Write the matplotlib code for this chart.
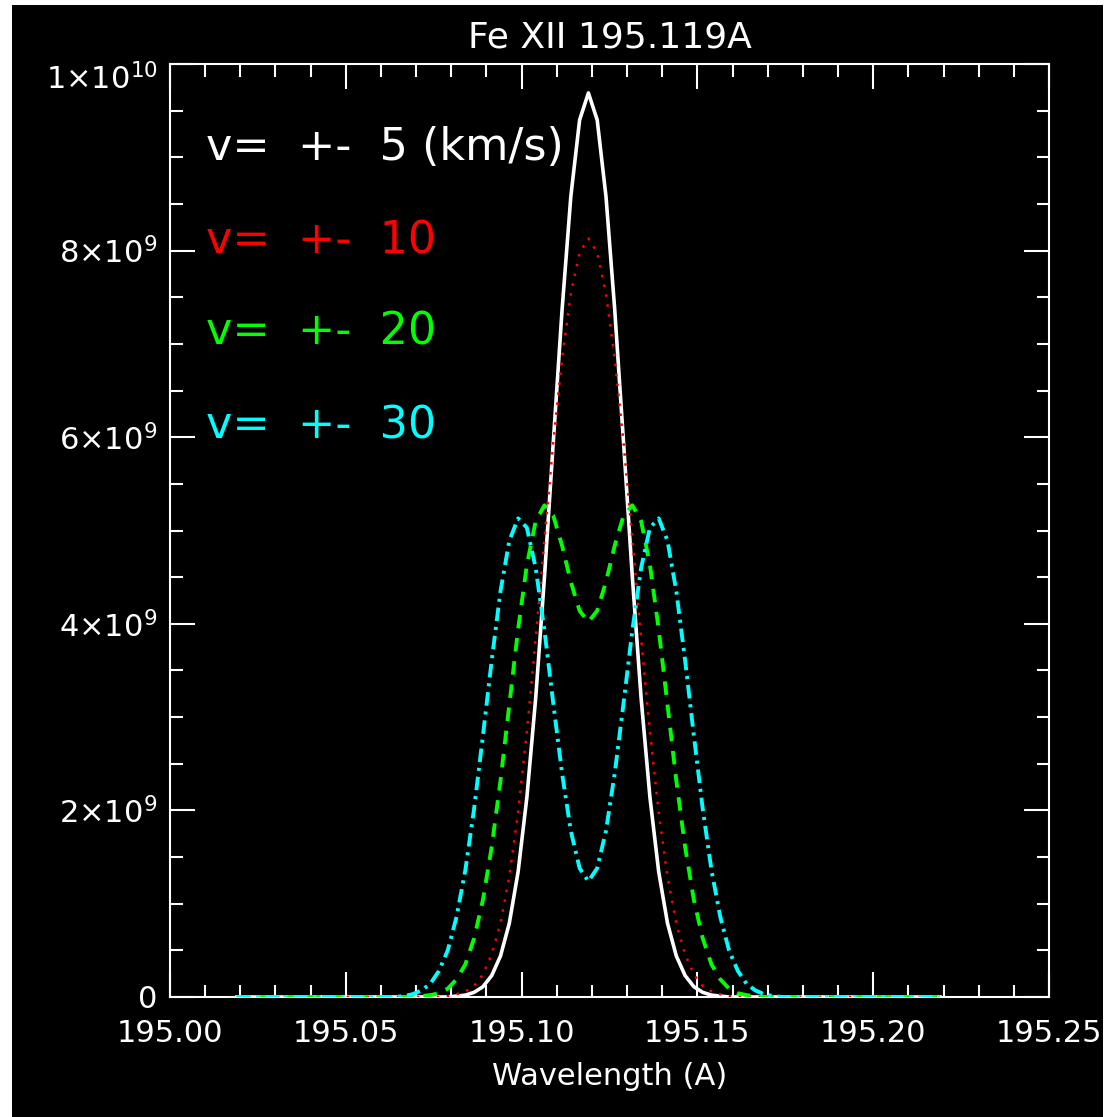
import numpy as np
import matplotlib
matplotlib.use('Agg')
import matplotlib.pyplot as plt
from matplotlib.patches import Rectangle
from matplotlib.ticker import MultipleLocator, FuncFormatter
from matplotlib.transforms import ScaledTranslation

# Comprimentos de onda amostrados (Angstrom)
wavelength = [195.019,
              195.064, 195.0665, 195.069, 195.0715, 195.074, 195.0765, 195.079, 195.0815,
              195.084, 195.0865, 195.089, 195.0915, 195.094, 195.0965, 195.099, 195.1015,
              195.104, 195.1065, 195.109, 195.1115, 195.114, 195.1165,
              195.119,
              195.1215, 195.124, 195.1265, 195.129, 195.1315, 195.134, 195.1365, 195.139,
              195.1415, 195.144, 195.1465, 195.149, 195.1515, 195.154, 195.1565, 195.159,
              195.1615, 195.164, 195.1665, 195.169, 195.1715, 195.174,
              195.219]

# Intensidades, em unidades de 1e9
v5 = [0,
      0, 0, 0, 0, 0, 0, 0, 0.01, 0.02, 0.05, 0.11, 0.23, 0.44, 0.79, 1.34, 2.14, 3.20, 4.50, 5.94, 7.36, 8.58, 9.40,
      9.69,
      9.40, 8.58, 7.36, 5.94, 4.50, 3.20, 2.14, 1.34, 0.79, 0.44, 0.23, 0.11, 0.05, 0.02, 0.01, 0, 0, 0, 0, 0, 0, 0,
      0]
v10 = [0,
       0, 0, 0, 0, 0, 0, 0.01, 0.03, 0.06, 0.12, 0.24, 0.46, 0.79, 1.29, 1.98, 2.84, 3.84, 4.91, 5.94, 6.84, 7.54, 7.98,
       8.13,
       7.98, 7.54, 6.84, 5.94, 4.91, 3.84, 2.84, 1.98, 1.29, 0.79, 0.46, 0.24, 0.12, 0.06, 0.03, 0.01, 0, 0, 0, 0, 0, 0,
       0]
v20 = [0,
       0, 0, 0, 0.01, 0.02, 0.04, 0.09, 0.19, 0.35, 0.63, 1.04, 1.61, 2.32, 3.13, 3.94, 4.63, 5.10, 5.27, 5.16, 4.84, 4.45, 4.14,
       4.02,
       4.14, 4.45, 4.84, 5.16, 5.27, 5.10, 4.63, 3.94, 3.13, 2.32, 1.61, 1.04, 0.63, 0.35, 0.19, 0.09, 0.04, 0.02, 0.01, 0, 0, 0,
       0]
v30 = [0,
       0, 0.01, 0.03, 0.07, 0.14, 0.28, 0.50, 0.86, 1.36, 2.02, 2.80, 3.61, 4.35, 4.89, 5.13, 5.03, 4.60, 3.93, 3.15, 2.40, 1.78, 1.38,
       1.24,
       1.38, 1.78, 2.40, 3.15, 3.93, 4.60, 5.03, 5.13, 4.89, 4.35, 3.61, 2.80, 2.02, 1.36, 0.86, 0.50, 0.28, 0.14, 0.07, 0.03, 0.01, 0,
       0]

labels = ['v=  +-  5 (km/s)', 'v=  +-  10', 'v=  +-  20', 'v=  +-  30']
cores = ['white', '#ff0000', '#00ff00', '#00ffff']

wl = np.array(wavelength)
escala = 1e9

fig = plt.figure(figsize=(11.14, 11.17), dpi=100, facecolor='white')
# fundo preto com margem branca, como na imagem original
fig.patches.append(Rectangle((12 / 1114, 0), (1103 - 12) / 1114, (1117 - 5) / 1117,
                             transform=fig.transFigure, facecolor='black', edgecolor='none', zorder=-10))

ax = fig.add_axes([170 / 1114, 1 - 997 / 1117, (1049 - 170) / 1114, (997 - 64) / 1117])
ax.set_facecolor('black')

ax.plot(wl, np.array(v5) * escala, color=cores[0], lw=2.6, linestyle='-', zorder=3)
ax.plot(wl, np.array(v10) * escala, color=cores[1], lw=1.8, linestyle=(0, (1, 3)), zorder=4)
ax.plot(wl, np.array(v20) * escala, color=cores[2], lw=2.8, linestyle=(0, (3.5, 2.5)), zorder=5)
ax.plot(wl, np.array(v30) * escala, color=cores[3], lw=2.8, linestyle=(0, (3.5, 1.5, 0.8, 1.5)), zorder=6)

ax.set_xlim(195.00, 195.25)
ax.set_ylim(0, 1e10)

ax.xaxis.set_major_locator(MultipleLocator(0.05))
ax.xaxis.set_minor_locator(MultipleLocator(0.01))
ax.yaxis.set_major_locator(MultipleLocator(2e9))
ax.yaxis.set_minor_locator(MultipleLocator(5e8))
ax.xaxis.set_major_formatter(FuncFormatter(lambda x, p: '%.2f' % x))


def fmt_y(y, p):
    if y < 1:
        return '0' if abs(y) < 1 else ''
    e = int(np.floor(np.log10(y) + 1e-9))
    m = int(round(y / 10 ** e))
    return r'$%d{\times}10^{%d}$' % (m, e)


ax.yaxis.set_major_formatter(FuncFormatter(fmt_y))

for s in ax.spines.values():
    s.set_color('white')
    s.set_linewidth(1.5)

ax.tick_params(which='both', direction='in', colors='white', top=True, right=True, width=1.5)
ax.tick_params(which='major', length=18)
ax.tick_params(which='minor', length=9)
ax.tick_params(axis='x', labelsize=22, pad=16)
ax.tick_params(axis='y', labelsize=22, pad=9)

ax.set_title('Fe XII 195.119A', color='white', fontsize=26, pad=12)
ax.set_xlabel('Wavelength (A)', color='white', fontsize=22, labelpad=10)

ypos = [0.897, 0.797, 0.699, 0.599]
for lab, c, yp in zip(labels, cores, ypos):
    ax.text(0.041, yp, lab, color=c, fontsize=32, transform=ax.transAxes, va='baseline', ha='left')

# o rótulo do topo aparece um pouco abaixo no original
fig.canvas.draw()
for lbl in ax.get_yticklabels():
    if lbl.get_text().endswith('{10}$'):
        lbl.set_transform(lbl.get_transform() + ScaledTranslation(0, -9 / 72, fig.dpi_scale_trans))

fig.savefig('out.png', dpi=100, facecolor=fig.get_facecolor())
